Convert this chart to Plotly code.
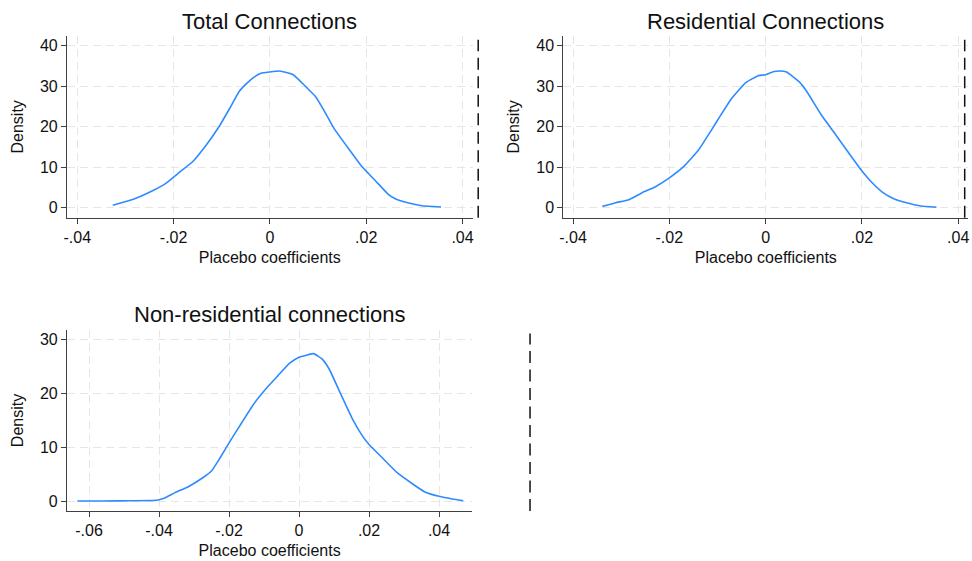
import plotly.graph_objects as go

# ---------------- data ----------------
titles = ["Total Connections", "Residential Connections", "Non-residential connections"]

total_x = [-0.03264, -0.02837, -0.02459, -0.02169, -0.01907, -0.01612, -0.01322, -0.01045,
           -0.00839, -0.00632, -0.00481, -0.00322, -0.00186, -0.00013, 0.00207, 0.00483,
           0.00744, 0.0095, 0.01157, 0.0133, 0.01605, 0.01915, 0.0219, 0.02452, 0.02603,
           0.0288, 0.03155, 0.03554]
total_y = [0.59, 2.07, 4.05, 5.93, 8.49, 11.28, 15.48, 20.25, 24.44, 28.8, 30.7, 32.3, 33.2,
           33.5, 33.75, 32.84, 29.9, 27.4, 23.3, 19.6, 15.06, 10.1, 6.67, 3.38, 2.22, 1.16,
           0.5, 0.17]

res_x = [-0.0339, -0.03116, -0.0284, -0.02564, -0.02289, -0.02014, -0.01704, -0.01393,
         -0.01116, -0.00945, -0.00703, -0.00413, -0.00153, 0.0, 0.00157, 0.00296, 0.00434,
         0.00709, 0.00848, 0.01158, 0.01433, 0.01708, 0.01985, 0.02192, 0.02431, 0.02673,
         0.02948, 0.03225, 0.03548]
res_y = [0.33, 1.23, 1.98, 3.71, 5.19, 7.24, 10.13, 14.25, 19.35, 22.6, 27.0, 30.87, 32.6,
         32.84, 33.58, 33.75, 33.5, 30.95, 28.8, 22.9, 18.4, 13.8, 9.3, 6.4, 3.8, 2.15,
         1.16, 0.42, 0.1]

nonres_x = [-0.06333, -0.05587, -0.04823, -0.04066, -0.03875, -0.03542, -0.03163, -0.0274,
            -0.025, -0.02262, -0.01977, -0.01646, -0.01313, -0.00934, -0.006, -0.00268, 0.0,
            0.00208, 0.00419, 0.00664, 0.00875, 0.0116, 0.0154, 0.01824, 0.02014, 0.02393,
            0.02821, 0.03248, 0.03581, 0.04, 0.04379, 0.04692]
nonres_y = [0.06, 0.06, 0.1, 0.18, 0.5, 1.6, 2.7, 4.4, 5.6, 7.96, 11.04, 14.44, 17.83, 20.9,
            23.26, 25.56, 26.67, 27.04, 27.33, 26.3, 24.3, 20.3, 15.06, 11.97, 10.43, 7.96,
            5.19, 3.2, 1.78, 0.92, 0.43, 0.11]

# actual (true) estimate, shown as the dashed vertical line
actual_estimate = [0.04326, 0.04135, 0.0660]

xtick_vals_top = [-0.04, -0.02, 0, 0.02, 0.04]
xtick_text_top = ["-.04", "-.02", "0", ".02", ".04"]
xtick_vals_bot = [-0.06, -0.04, -0.02, 0, 0.02, 0.04]
xtick_text_bot = ["-.06", "-.04", "-.02", "0", ".02", ".04"]
ytick_vals_top = [0, 10, 20, 30, 40]
ytick_vals_bot = [0, 10, 20, 30]

# ---------------- layout ----------------
W, H = 972, 561
FONT = "Liberation Sans, Arial, sans-serif"
AXC = "#404040"
GRIDC = "#e6e6e6"
LINEC = "#2e8bff"
TXT = "#111111"

def px_x(p):
    return p / W

def px_y(p):
    return 1 - p / H

panels = [
    dict(xd=[px_x(63.3), px_x(471.0)], yd=[px_y(217.7), px_y(36.0)],
         xr=[-0.04215, 0.04209], yr=[-2.47, 42.4],
         xv=xtick_vals_top, xt=xtick_text_top, yv=ytick_vals_top,
         x=total_x, y=total_y, title_y=21.5),
    dict(xd=[px_x(562.3), px_x(969.3)], yd=[px_y(217.7), px_y(36.0)],
         xr=[-0.0420, 0.0421], yr=[-2.47, 42.4],
         xv=xtick_vals_top, xt=xtick_text_top, yv=ytick_vals_top,
         x=res_x, y=res_y, title_y=21.5),
    dict(xd=[px_x(63.3), px_x(470.7)], yd=[px_y(511.0), px_y(330.0)],
         xr=[-0.0663, 0.0495], yr=[-1.8, 31.7],
         xv=xtick_vals_bot, xt=xtick_text_bot, yv=ytick_vals_bot,
         x=nonres_x, y=nonres_y, title_y=314.7),
]

fig = go.Figure()
layout = dict(
    width=W, height=H,
    margin=dict(l=0, r=0, t=0, b=0),
    paper_bgcolor="white", plot_bgcolor="white",
    showlegend=False,
    font=dict(family=FONT, size=16, color=TXT),
)
shapes = []
annotations = []

for i, p in enumerate(panels):
    n = "" if i == 0 else str(i + 1)
    xa, ya = "x" + n, "y" + n
    fig.add_trace(go.Scatter(x=p["x"], y=p["y"], mode="lines",
                             line=dict(color=LINEC, width=1.6, shape="spline", smoothing=0.4),
                             xaxis=xa, yaxis=ya, hoverinfo="skip"))
    common = dict(showline=True, linecolor=AXC, linewidth=1.2,
                  ticks="outside", ticklen=5, tickcolor=AXC, tickwidth=1.2,
                  showgrid=True, gridcolor=GRIDC, gridwidth=1, griddash="8px,5px",
                  zeroline=False, tickfont=dict(family=FONT, size=16, color=TXT),
                  fixedrange=True)
    layout["xaxis" + n] = dict(domain=p["xd"], range=p["xr"], anchor=ya,
                               tickvals=p["xv"], ticktext=p["xt"],
                               title=dict(text="Placebo coefficients", standoff=6,
                                          font=dict(family=FONT, size=16, color=TXT)),
                               **common)
    layout["yaxis" + n] = dict(domain=p["yd"], range=p["yr"], anchor=xa,
                               tickvals=p["yv"], ticktext=[str(v) for v in p["yv"]],
                               title=dict(text="Density", standoff=12,
                                          font=dict(family=FONT, size=16, color=TXT)),
                               **common)
    # dashed vertical line at the actual estimate (may sit outside the axis range)
    frac = (actual_estimate[i] - p["xr"][0]) / (p["xr"][1] - p["xr"][0])
    shapes.append(dict(type="line", xref=xa + " domain", yref=ya + " domain",
                       x0=frac, x1=frac, y0=0, y1=0.98,
                       line=dict(color=TXT, width=1.5, dash="12px,6.5px")))
    annotations.append(dict(text=titles[i], xref="paper", yref="paper",
                            x=(p["xd"][0] + p["xd"][1]) / 2, y=px_y(p["title_y"]),
                            xanchor="center", yanchor="middle", showarrow=False,
                            font=dict(family=FONT, size=22, color=TXT)))

layout["shapes"] = shapes
layout["annotations"] = annotations
fig.update_layout(**layout)
fig.write_html("out.html")
